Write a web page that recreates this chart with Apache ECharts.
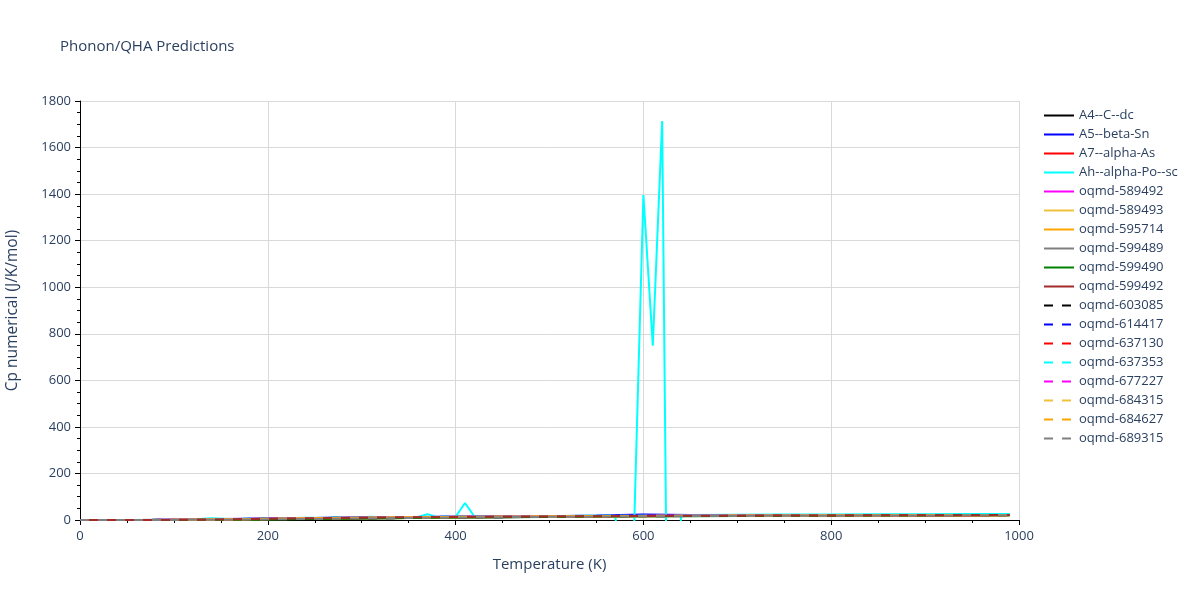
<!DOCTYPE html>
<html>
<head>
<meta charset="utf-8">
<script src="https://cdn.jsdelivr.net/npm/echarts@6/dist/echarts.min.js"></script>
<style>html,body{margin:0;padding:0;background:#fff}#c{width:1200px;height:600px}</style>
</head>
<body>
<div id="c"></div>
<script>
const temps = [0,10,20,30,40,50,60,80,100,125,150,200,250,300,350,400,450,500,550,600,650,700,750,800,850,900,950,990];
const tempsAh = [0,10,20,30,40,50,60,80,100,120,140,160,180,200,220,240,260,270,280,300,310,320,340,360,370,380,400,410,420,440,460,480,500,520,540,560,570,580,590,600,610,620,630,640,650,700,750,800,850,900,950,990];

const names = ["A4--C--dc","A5--beta-Sn","A7--alpha-As","Ah--alpha-Po--sc","oqmd-589492","oqmd-589493","oqmd-595714","oqmd-599489","oqmd-599490","oqmd-599492","oqmd-603085","oqmd-614417","oqmd-637130","oqmd-637353","oqmd-677227","oqmd-684315","oqmd-684627","oqmd-689315"];
const colors = ["#000000","#0000ff","#ff0000","#00ffff","#ff00ff","#f0c23c","#ffa500","#808080","#008000","#a52a2a","#000000","#0000ff","#ff0000","#00ffff","#ff00ff","#f0c23c","#ffa500","#808080"];
const dashed = [false,false,false,false,false,false,false,false,false,false,true,true,true,true,true,true,true,true];

const cpA4 = [0,0,0,0,0.01,0.02,0.04,0.1,0.25,0.5,0.9,1.8,3.7,6.1,8.3,10.4,12.1,13.7,15.0,16.0,17.0,17.8,18.5,19.1,19.6,20.1,20.5,20.8];
const cpA5 = [0,0,0.01,0.04,0.1,0.2,0.33,0.7,1.3,2.3,3.5,6.0,8.4,10.5,12.3,13.8,15.1,16.2,19.0,24.0,21.0,20.0,20.5,21.0,21.4,21.8,22.1,22.4];
const cpA7 = [0,0,0.01,0.03,0.07,0.14,0.24,0.52,1.0,1.9,3.0,5.5,8.0,10.2,12.0,13.6,14.9,16.0,16.9,17.7,18.4,19.0,19.5,19.9,20.3,20.6,20.9,21.1];
const cpAh = [0,0,0.01,0.05,0.12,0.25,0.4,0.9,1.6,2.5,8.0,4.2,5.2,6.2,7.1,9.5,8.9,12.0,9.8,10.6,14.0,11.4,12.1,12.8,25.0,13.5,14.2,73.0,14.8,15.4,16.0,16.5,17.0,17.5,17.9,18.3,18.5,-350,-50,1396,749,1714,-2500,20,21.5,22.5,23.3,24.0,24.6,25.1,25.6,26.0];
const cp589492 = [0,0,0.02,0.06,0.14,0.26,0.42,0.85,1.5,2.6,3.8,6.4,8.8,10.9,12.6,14.1,15.4,16.4,17.3,18.1,18.8,19.4,19.9,20.3,20.7,21.0,21.3,21.5];
const cp589493 = [0,0,0,0.01,0.03,0.06,0.1,0.23,0.45,0.9,1.5,3.1,5.1,7.2,9.1,10.9,12.4,13.8,15.0,16.0,16.9,17.6,18.3,18.8,19.3,19.7,20.0,20.3];
const cp595714 = [0,0,0.01,0.02,0.05,0.1,0.17,0.38,0.75,1.4,2.3,4.4,6.7,8.8,10.7,12.3,13.7,14.9,15.9,16.8,17.6,18.3,18.9,19.4,19.8,20.2,20.5,20.8];
const cp599489 = [0,0,0.01,0.03,0.08,0.16,0.27,0.58,1.1,2.0,3.2,5.8,8.2,10.4,12.2,13.8,15.1,16.2,17.1,17.9,18.6,19.2,19.7,20.1,20.5,20.8,21.1,21.3];
const cp599490 = [0,0,0,0.01,0.02,0.04,0.07,0.17,0.35,0.7,1.2,2.6,4.5,6.6,8.5,10.3,11.9,13.3,14.5,15.6,16.5,17.3,18.0,18.6,19.1,19.5,19.9,20.2];
const cp599492 = [0,0,0.01,0.02,0.06,0.12,0.2,0.45,0.85,1.6,2.6,4.9,7.3,9.5,11.3,12.9,14.3,15.5,16.5,17.3,18.1,18.7,19.3,19.7,20.1,20.5,20.8,21.0];
const cp603085 = [0,0,0,0,0.01,0.03,0.05,0.13,0.3,0.6,1.0,2.2,4.0,6.3,8.4,10.4,12.1,13.6,14.9,16.0,17.0,17.8,18.5,19.1,19.6,20.1,20.5,20.8];
const cp614417 = [0,0,0.01,0.04,0.1,0.19,0.31,0.65,1.2,2.2,3.4,6.0,8.5,10.6,12.4,14.0,15.3,16.4,17.3,18.1,18.8,19.4,19.9,20.3,20.7,21.0,21.3,21.6];
const cp637130 = [0,0,0.01,0.02,0.05,0.11,0.19,0.42,0.8,1.5,2.5,4.7,7.0,9.2,11.0,12.6,14.0,15.2,16.2,17.1,17.9,18.5,19.1,19.6,20.0,20.4,20.7,21.0];
const cp637353 = [0,0,0.02,0.05,0.12,0.23,0.38,0.78,1.4,2.5,3.7,6.3,8.8,10.9,12.7,14.2,15.5,16.6,17.5,18.3,19.0,19.6,20.1,20.5,20.9,21.2,21.5,21.8];
const cp677227 = [0,0,0.01,0.03,0.07,0.13,0.22,0.48,0.9,1.7,2.8,5.2,7.6,9.8,11.7,13.3,14.7,15.8,16.8,17.6,18.3,18.9,19.5,19.9,20.3,20.6,20.9,21.2];
const cp684315 = [0,0,0,0.01,0.03,0.07,0.12,0.28,0.55,1.1,1.8,3.6,5.7,7.8,9.7,11.4,12.9,14.2,15.4,16.4,17.2,18.0,18.6,19.1,19.6,20.0,20.3,20.6];
const cp684627 = [0,0,0.01,0.03,0.08,0.15,0.25,0.55,1.0,1.9,3.0,5.5,8.0,10.2,12.0,13.6,14.9,16.0,16.9,17.7,18.4,19.0,19.5,19.9,20.3,20.6,20.9,21.1];
const cp689315 = [0,0,0,0.01,0.02,0.05,0.09,0.2,0.4,0.8,1.4,2.9,4.8,6.9,8.8,10.6,12.2,13.6,14.8,15.8,16.7,17.5,18.1,18.7,19.2,19.6,20.0,20.3];

const seriesValues = [cpA4,cpA5,cpA7,cpAh,cp589492,cp589493,cp595714,cp599489,cp599490,cp599492,cp603085,cp614417,cp637130,cp637353,cp677227,cp684315,cp684627,cp689315];

const textColor = '#2a3f5f';
const font = '"Open Sans", Verdana, Arial, sans-serif';

const series = names.map((n, i) => {
  const xs = (i === 3) ? tempsAh : temps;
  return {
    name: n,
    type: 'line',
    data: seriesValues[i].map((v, k) => [xs[k], v]),
    showSymbol: false,
    symbol: 'none',
    clip: true,
    lineStyle: { color: colors[i], width: 2, type: dashed[i] ? [9, 9] : 'solid' },
    itemStyle: { color: colors[i] },
    emphasis: { disabled: true },
    animation: false
  };
});

const chart = echarts.init(document.getElementById('c'), null, { renderer: 'canvas' });
chart.setOption({
  animation: false,
  backgroundColor: '#ffffff',
  textStyle: { fontFamily: font },
  title: {
    text: 'Phonon/QHA Predictions',
    left: 55, top: 34,
    textStyle: { fontFamily: font, fontSize: 15, fontWeight: 'normal', color: textColor }
  },
  grid: { left: 80, right: 181, top: 101, bottom: 80, containLabel: false, outerBoundsMode: 'none' },
  legend: {
    orient: 'vertical',
    left: 1038, top: 104,
    itemWidth: 30, itemHeight: 12, itemGap: 6,
    itemStyle: { opacity: 0 },
    textStyle: { fontFamily: font, fontSize: 13, color: textColor },
    data: names
  },
  xAxis: {
    type: 'value', min: 0, max: 1000, interval: 200,
    name: 'Temperature (K)', nameLocation: 'middle', nameGap: 37,
    nameTextStyle: { fontFamily: font, fontSize: 15, color: textColor },
    axisLine: { show: true, onZero: false, lineStyle: { color: '#000', width: 1 } },
    axisTick: { show: true, inside: false, length: 5, lineStyle: { color: '#000' } },
    minorTick: { show: true, splitNumber: 4, length: 3, lineStyle: { color: '#000' } },
    axisLabel: { fontFamily: font, fontSize: 13, color: textColor, margin: 10, formatter: v => String(v) },
    splitLine: { show: true, lineStyle: { color: '#d9d9d9', width: 1 } }
  },
  yAxis: {
    type: 'value', min: 0, max: 1800, interval: 200,
    name: 'Cp numerical (J/K/mol)', nameLocation: 'middle', nameGap: 59,
    nameTextStyle: { fontFamily: font, fontSize: 15.5, color: textColor },
    axisLine: { show: true, onZero: false, lineStyle: { color: '#000', width: 1 } },
    axisTick: { show: true, inside: false, length: 5, lineStyle: { color: '#000' } },
    minorTick: { show: true, splitNumber: 4, length: 3, lineStyle: { color: '#000' } },
    axisLabel: { fontFamily: font, fontSize: 13, color: textColor, margin: 9, formatter: v => String(v) },
    splitLine: { show: true, lineStyle: { color: '#d9d9d9', width: 1 } }
  },
  series: series
});
</script>
</body>
</html>
